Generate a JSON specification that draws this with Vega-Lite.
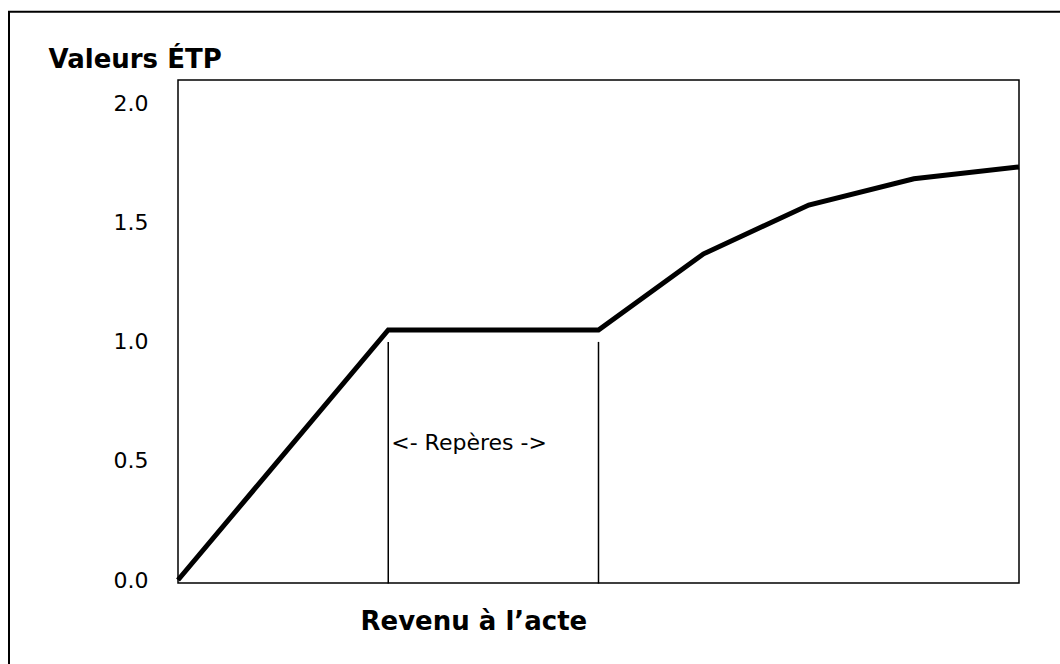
{
  "$schema": "https://vega.github.io/schema/vega-lite/v6.json",
  "autosize": {"type": "none"},
  "padding": {"left": 178, "top": 80, "right": 41, "bottom": 81},
  "width": 841,
  "height": 503,
  "background": "white",
  "config": {
    "view": {"stroke": "black", "strokeWidth": 1.5},
    "font": "DejaVu Sans"
  },
  "datasets": {
    "cadre": [{"gauche": -1.6076, "droite": 9.5, "haut": 2.3866, "bas": -0.6}],
    "courbe": [
      {"revenu": 0, "etp": 0},
      {"revenu": 2, "etp": 1.05},
      {"revenu": 4, "etp": 1.05},
      {"revenu": 5, "etp": 1.37},
      {"revenu": 6, "etp": 1.575},
      {"revenu": 7, "etp": 1.685},
      {"revenu": 8, "etp": 1.735}
    ],
    "reperes": [
      {"revenu": 2, "haut": 1.0, "bas": -0.015},
      {"revenu": 4, "haut": 1.0, "bas": -0.015}
    ],
    "etiquette": [
      {"revenu": 2, "etp": 0.576, "texte": "<- Repères ->"}
    ]
  },
  "layer": [
    {
      "data": {"name": "cadre"},
      "mark": {"type": "rect", "fill": "white", "fillOpacity": 0, "stroke": "black", "strokeWidth": 2, "clip": false},
      "encoding": {
        "x": {"field": "gauche", "type": "quantitative"},
        "x2": {"field": "droite"},
        "y": {"field": "haut", "type": "quantitative"},
        "y2": {"field": "bas"}
      }
    },
    {
      "data": {"name": "reperes"},
      "mark": {"type": "rule", "color": "black", "strokeWidth": 1.5},
      "encoding": {
        "x": {"field": "revenu", "type": "quantitative"},
        "y": {"field": "haut", "type": "quantitative"},
        "y2": {"field": "bas"}
      }
    },
    {
      "data": {"name": "courbe"},
      "mark": {"type": "line", "color": "black", "strokeWidth": 5, "strokeJoin": "miter", "clip": false},
      "encoding": {
        "x": {
          "field": "revenu",
          "type": "quantitative",
          "scale": {"domain": [0, 8], "nice": false, "zero": false},
          "axis": {
            "title": "Revenu à l’acte",
            "titleFont": "DejaVu Sans",
            "titleFontSize": 26,
            "titleFontWeight": "bold",
            "titleColor": "black",
            "titleAnchor": "start",
            "titleAlign": "left",
            "titleBaseline": "alphabetic",
            "titleX": 182,
            "titleY": 46,
            "labels": false,
            "ticks": false,
            "domain": false,
            "grid": false
          }
        },
        "y": {
          "field": "etp",
          "type": "quantitative",
          "scale": {"domain": [-0.0126, 2.1], "nice": false, "zero": false},
          "axis": {
            "title": "Valeurs ÉTP",
            "titleFont": "DejaVu Sans",
            "titleFontSize": 26,
            "titleFontWeight": "bold",
            "titleColor": "black",
            "titleAngle": 0,
            "titleAlign": "left",
            "titleAnchor": "start",
            "titleBaseline": "alphabetic",
            "titleX": -130,
            "titleY": -13,
            "values": [0, 0.5, 1, 1.5, 2],
            "format": ".1f",
            "labelFont": "DejaVu Sans",
            "labelFontSize": 22,
            "labelColor": "black",
            "labelPadding": 30,
            "labelBaseline": "middle",
            "ticks": false,
            "tickSize": 0,
            "domain": false,
            "grid": false
          }
        }
      }
    },
    {
      "data": {"name": "etiquette"},
      "mark": {"type": "text", "align": "left", "baseline": "middle", "dx": 3, "fontSize": 22, "font": "DejaVu Sans", "color": "black"},
      "encoding": {
        "x": {"field": "revenu", "type": "quantitative"},
        "y": {"field": "etp", "type": "quantitative"},
        "text": {"field": "texte"}
      }
    }
  ]
}
